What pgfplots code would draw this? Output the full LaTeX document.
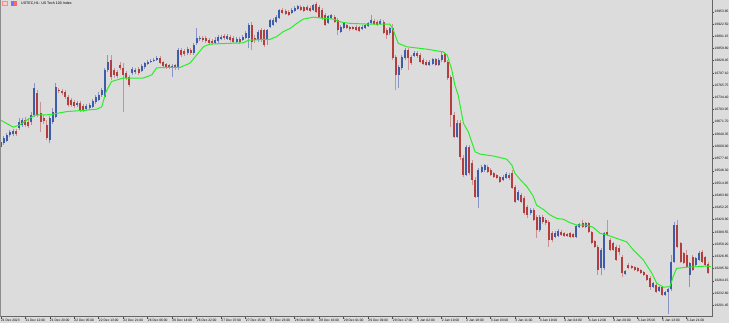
\documentclass[border=0pt]{standalone}
\usepackage{fontspec}
\setmainfont{Liberation Sans}
\usepackage{pgfplots}
\usepackage{pgfplotstable}
\pgfplotsset{compat=1.18}
\definecolor{bg}{RGB}{220,220,220}
\definecolor{bull}{RGB}{62,92,170}
\definecolor{bear}{RGB}{180,62,62}
\definecolor{bullw}{RGB}{140,148,198}
\definecolor{bearw}{RGB}{205,145,145}
\definecolor{ma}{RGB}{40,238,40}

\pgfplotstableread{
i o h l c
0 16607 16625 16600 16620
1 16617 16635 16612 16630
2 16623 16643 16620 16638
3 16638 16651 16633 16646
4 16640 16653 16635 16648
6 16656 16681 16651 16671
7 16664 16681 16658 16676
10 16671 16697 16664 16689
11 16689 16771 16684 16758
16 16625 16687 16617 16681
17 16671 16707 16666 16697
18 16684 16771 16681 16761
25 16715 16725 16710 16720
28 16704 16717 16699 16712
29 16707 16720 16702 16715
30 16710 16730 16707 16725
31 16722 16740 16717 16735
32 16728 16748 16725 16740
33 16740 16758 16735 16753
34 16735 16810 16733 16805
35 16805 16843 16799 16825
43 16797 16812 16792 16807
44 16799 16810 16794 16805
46 16802 16820 16799 16815
47 16812 16825 16807 16822
48 16820 16830 16817 16825
49 16825 16833 16822 16828
50 16828 16835 16825 16830
51 16830 16840 16828 16835
56 16810 16820 16787 16815
58 16810 16861 16805 16856
61 16848 16863 16843 16858
63 16848 16874 16843 16869
64 16874 16912 16869 16887
65 16884 16892 16879 16887
70 16874 16889 16871 16881
71 16879 16894 16874 16889
72 16884 16894 16881 16889
74 16884 16897 16881 16892
77 16876 16889 16874 16884
79 16881 16894 16879 16889
80 16887 16905 16884 16899
81 16887 16925 16861 16920
84 16881 16907 16876 16902
87 16881 16910 16869 16907
88 16915 16935 16912 16933
89 16920 16938 16917 16933
90 16928 16946 16925 16940
91 16938 16961 16935 16958
95 16951 16963 16948 16958
96 16956 16969 16953 16963
97 16961 16971 16958 16969
102 16958 16974 16956 16971
107 16925 16946 16922 16943
108 16938 16948 16935 16946
111 16902 16920 16899 16915
112 16912 16928 16910 16925
118 16910 16920 16907 16915
119 16912 16922 16910 16920
120 16917 16928 16915 16925
121 16925 16946 16922 16933
124 16922 16935 16920 16930
127 16899 16915 16894 16912
130 16792 16817 16758 16812
131 16810 16843 16805 16838
132 16835 16861 16830 16856
135 16840 16853 16838 16848
140 16817 16830 16815 16825
141 16820 16835 16817 16833
143 16817 16835 16815 16830
144 16830 16851 16825 16843
149 16633 16676 16630 16669
152 16535 16612 16533 16607
156 16479 16553 16451 16548
157 16543 16561 16540 16556
158 16548 16563 16543 16561
164 16523 16535 16520 16530
165 16528 16543 16525 16538
169 16471 16497 16469 16492
173 16438 16451 16433 16446
176 16394 16433 16389 16428
181 16376 16392 16374 16387
182 16379 16397 16376 16392
188 16376 16407 16374 16404
189 16402 16412 16399 16410
191 16402 16415 16399 16412
196 16297 16348 16279 16343
197 16297 16389 16292 16387
204 16282 16292 16279 16289
213 16248 16261 16246 16259
215 16238 16251 16235 16248
217 16228 16238 16225 16235
218 16235 16246 16179 16243
219 16243 16330 16238 16312
220 16312 16415 16310 16407
225 16279 16312 16248 16310
227 16305 16325 16302 16322
228 16318 16340 16315 16335
}\bulltab

\pgfplotstableread{
i o h l c
5 16648 16653 16635 16640
8 16676 16684 16658 16664
9 16671 16681 16656 16661
12 16745 16753 16684 16689
13 16694 16722 16646 16671
14 16681 16689 16666 16674
15 16664 16676 16625 16630
19 16753 16758 16745 16751
20 16751 16756 16740 16745
21 16748 16753 16730 16735
22 16735 16740 16710 16715
23 16728 16733 16710 16715
24 16722 16728 16707 16712
26 16720 16725 16697 16702
27 16712 16717 16697 16702
36 16830 16843 16779 16787
37 16805 16810 16784 16792
38 16799 16805 16784 16789
39 16817 16825 16805 16810
40 16810 16822 16697 16792
41 16797 16802 16779 16784
42 16787 16792 16761 16766
45 16807 16812 16792 16797
52 16835 16840 16820 16822
53 16825 16828 16810 16815
54 16820 16822 16807 16812
55 16817 16820 16807 16812
57 16817 16820 16805 16810
59 16856 16861 16838 16843
60 16853 16858 16840 16846
62 16856 16861 16843 16848
66 16887 16892 16876 16881
67 16887 16892 16874 16879
68 16881 16887 16869 16874
69 16879 16884 16869 16874
73 16892 16897 16881 16887
75 16889 16894 16876 16881
76 16887 16892 16874 16876
78 16884 16889 16871 16876
82 16920 16928 16856 16876
83 16887 16894 16874 16881
85 16907 16912 16876 16881
86 16907 16910 16863 16869
92 16958 16963 16948 16951
93 16956 16961 16946 16948
94 16953 16958 16943 16946
98 16966 16971 16956 16958
99 16966 16969 16953 16956
100 16966 16971 16956 16958
101 16963 16969 16953 16956
103 16974 16979 16951 16953
104 16966 16971 16938 16940
105 16958 16963 16933 16938
106 16946 16951 16917 16920
109 16940 16946 16925 16928
110 16933 16938 16894 16907
113 16920 16922 16910 16912
114 16915 16917 16905 16910
115 16915 16917 16907 16910
116 16915 16920 16905 16907
117 16915 16917 16902 16905
122 16930 16935 16920 16922
123 16928 16933 16917 16920
125 16928 16933 16897 16899
126 16907 16912 16884 16894
128 16912 16922 16830 16835
129 16838 16843 16753 16792
133 16856 16861 16805 16835
134 16838 16843 16817 16822
136 16848 16853 16835 16840
137 16843 16848 16822 16825
138 16830 16835 16817 16820
139 16825 16830 16815 16817
142 16833 16835 16815 16817
145 16846 16851 16822 16825
146 16825 16830 16779 16784
147 16787 16792 16658 16689
148 16689 16697 16630 16633
150 16669 16676 16574 16581
151 16579 16587 16530 16535
153 16607 16612 16535 16540
154 16566 16574 16510 16523
155 16523 16530 16476 16479
159 16556 16561 16540 16543
160 16548 16553 16533 16535
161 16540 16543 16528 16530
162 16535 16538 16525 16528
163 16530 16533 16515 16517
166 16535 16540 16523 16528
167 16540 16548 16499 16502
168 16505 16510 16463 16466
170 16484 16489 16463 16466
171 16476 16482 16433 16438
172 16453 16458 16425 16433
174 16446 16451 16417 16420
175 16428 16433 16374 16394
177 16428 16433 16410 16415
178 16420 16425 16407 16412
179 16415 16420 16351 16369
180 16387 16392 16363 16369
183 16389 16394 16379 16381
184 16387 16389 16376 16379
185 16384 16387 16376 16379
186 16387 16389 16374 16376
187 16384 16387 16374 16376
190 16412 16420 16399 16402
192 16412 16415 16387 16389
193 16389 16392 16358 16361
194 16366 16369 16348 16351
195 16351 16356 16279 16292
198 16389 16420 16379 16381
199 16369 16374 16340 16343
200 16361 16363 16340 16343
201 16351 16356 16315 16318
202 16348 16356 16330 16338
203 16325 16330 16274 16284
205 16305 16310 16294 16297
206 16302 16305 16294 16297
207 16300 16302 16289 16292
208 16297 16300 16287 16289
209 16292 16294 16282 16284
210 16287 16289 16276 16279
211 16279 16282 16264 16266
212 16271 16276 16241 16248
214 16253 16256 16233 16235
216 16248 16251 16225 16228
221 16407 16420 16348 16351
222 16361 16363 16310 16312
223 16335 16338 16307 16310
224 16330 16343 16297 16300
226 16325 16330 16289 16292
229 16338 16343 16310 16312
230 16325 16328 16302 16305
231 16307 16312 16282 16284
}\beartab

\begin{document}
\begin{tikzpicture}
\fill[bg] (-100bp,-100bp) rectangle (900bp,500bp);
\begin{axis}[
  at={(0bp,0bp)}, anchor=south west, scale only axis,
  width=712bp, height=316.7bp,
  xmin=-0.229, xmax=232.27, ymin=16172.2, ymax=16984,
  axis x line*=bottom, axis y line*=right,
  x axis line style={-}, y axis line style={-},
  axis line style={draw=black!60, line width=0.6bp},
  tick align=outside, major tick length=2bp,
  tick style={draw=black!70, line width=0.4bp},
  xtick={0,8,...,224},
  xticklabels={21 Dec 2023,21 Dec 12:00,21 Dec 20:00,22 Dec 05:00,22 Dec 13:00,22 Dec 21:00,26 Dec 06:00,26 Dec 14:00,26 Dec 22:00,27 Dec 07:00,27 Dec 15:00,27 Dec 23:00,28 Dec 08:00,28 Dec 16:00,29 Dec 01:00,29 Dec 09:00,29 Dec 17:00,2 Jan 02:00,2 Jan 10:00,2 Jan 18:00,3 Jan 03:00,3 Jan 11:00,3 Jan 19:00,4 Jan 04:00,4 Jan 12:00,4 Jan 20:00,5 Jan 05:00,5 Jan 13:00,5 Jan 21:00},
  xticklabel style={anchor=north west, font=\fontsize{3.3}{3.6}\selectfont, inner sep=0.4bp, xshift=-0.3bp},
  ytick={16201.45,16232.80,16264.15,16295.50,16326.85,16358.20,16389.55,16420.90,16452.25,16483.60,16514.95,16546.30,16577.65,16609.00,16640.35,16671.70,16703.05,16734.40,16765.75,16797.10,16828.45,16859.80,16891.15,16922.50,16953.85},
  yticklabels={16201.45,16232.80,16264.15,16295.50,16326.85,16358.20,16389.55,16420.90,16452.25,16483.60,16514.95,16546.30,16577.65,16609.00,16640.35,16671.70,16703.05,16734.40,16765.75,16797.10,16828.45,16859.80,16891.15,16922.50,16953.85},
  yticklabel style={anchor=west, font=\fontsize{3.3}{3.6}\selectfont, inner sep=0.5bp},
  axis background/.style={fill=bg},
]
% wicks
\addplot[draw=none, mark=none, error bars/.cd, y dir=plus, y explicit, error mark=none,
  error bar style={draw=bullw, line width=0.8bp, solid}]
  table[x=i, y=l, y error plus expr={\thisrow{h}-\thisrow{l}}] {\bulltab};
\addplot[draw=none, mark=none, error bars/.cd, y dir=plus, y explicit, error mark=none,
  error bar style={draw=bearw, line width=0.8bp, solid}]
  table[x=i, y=l, y error plus expr={\thisrow{h}-\thisrow{l}}] {\beartab};
% bodies
\addplot[draw=none, mark=none, error bars/.cd, y dir=plus, y explicit, error mark=none,
  error bar style={draw=bull, line width=2bp, solid}]
  table[x=i, y=o, y error plus expr={\thisrow{c}-\thisrow{o}}] {\bulltab};
\addplot[draw=none, mark=none, error bars/.cd, y dir=plus, y explicit, error mark=none,
  error bar style={draw=bear, line width=2bp, solid}]
  table[x=i, y=c, y error plus expr={\thisrow{o}-\thisrow{c}}] {\beartab};
% moving average
\addplot[ma, line width=1bp, mark=none] coordinates {
(0,16676) (4.1,16658) (6.3,16664) (8.5,16676) (11.2,16689) (16.1,16690) (21.6,16698) (27,16701) (31.3,16704) (33,16710) (34.4,16749) (36.2,16775) (37.9,16779) (40,16784) (46.6,16784) (49.3,16792) (50.9,16810) (53.6,16811) (58.5,16811) (61.8,16822) (64,16843) (66.2,16864) (68.3,16871) (74.9,16873) (79.2,16874) (80.9,16881) (85.7,16883) (87.9,16883) (90.1,16890) (92.3,16903) (94.5,16911) (96.7,16924) (98.8,16935) (102.1,16940) (105.3,16937) (108.6,16935) (110.8,16928) (114.1,16924) (120.6,16922) (127.1,16922) (128.2,16907) (129.8,16873) (132.6,16864) (139.1,16858) (144.5,16851) (145.8,16843) (147.3,16805) (148.3,16766) (149.4,16740) (151.1,16668) (152.7,16646) (154.9,16595) (156.5,16589) (160.9,16584) (165.2,16576) (166.9,16561) (167.9,16540) (169.6,16524) (171.8,16506) (173.9,16481) (175.0,16458) (177.2,16447) (179.4,16433) (181.6,16424) (183.7,16422) (185.9,16413) (188.2,16407) (191.4,16407) (193.5,16401) (195.7,16386) (197.9,16382) (201.1,16373) (204.4,16364) (206.6,16343) (209.8,16318) (212.6,16284) (214.2,16258) (216.4,16248) (218.5,16249) (219.6,16275) (220.7,16296) (224,16299) (230.5,16302) (231.9,16301)
};
\end{axis}
\pgfresetboundingbox
\path[use as bounding box] ([yshift=-6.3bp]current axis.south west) rectangle ([xshift=729bp,yshift=-6.3bp]current axis.south west) -- ([xshift=729bp]current axis.north west);
\begin{scope}[shift={(current axis.north west)}]
\draw[black!45, line width=0.6bp] (0.3bp,0bp) -- (0.3bp,-316.7bp);
\fill[red!45] (2bp,-6.5bp) rectangle (8bp,-1bp);
\fill[white!80!red] (3.3bp,-5.4bp) rectangle (6.7bp,-2.1bp);
\fill[blue!55] (10.5bp,-6.5bp) rectangle (16.5bp,-1bp);
\fill[red!60] (13.5bp,-6.5bp) rectangle (16.5bp,-1bp);
\node[anchor=west, inner sep=0pt, font=\fontsize{3.6}{4}\selectfont] at (21bp,-3.7bp) {USTEC,H1: US Tech 100 Index};
\end{scope}
\end{tikzpicture}
\end{document}
